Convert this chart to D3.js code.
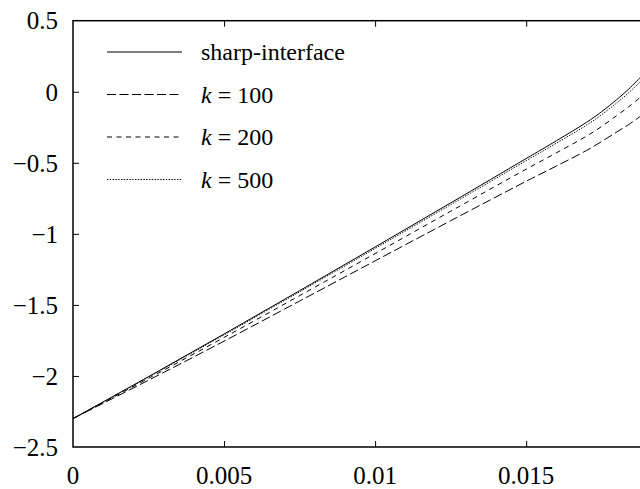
<!DOCTYPE html>
<html>
<head>
<meta charset="utf-8">
<script src="https://cdn.jsdelivr.net/npm/d3@7"></script>
<style>
  body { margin: 0; background: #fff; }
  text { font-family: "Liberation Serif", "DejaVu Serif", serif; }
</style>
</head>
<body>
<div id="my_dataviz"></div>
<script>
// Dane
var xs = [0, 0.0025, 0.005, 0.0075, 0.01, 0.0125, 0.015, 0.016, 0.017, 0.0175, 0.018, 0.0184, 0.0188]
var sharp = [-2.30, -2.005, -1.705, -1.40, -1.0925, -0.7825, -0.47, -0.345, -0.215, -0.14, -0.055, 0.02, 0.105]
var k100 = [-2.30, -2.03, -1.755, -1.473, -1.19, -0.908, -0.63, -0.523, -0.413, -0.35, -0.283, -0.23, -0.17]
var k200 = [-2.30, -2.017, -1.729, -1.435, -1.139, -0.841, -0.545, -0.43, -0.312, -0.244, -0.167, -0.105, -0.035]
var k500 = [-2.30, -2.008, -1.711, -1.408, -1.103, -0.795, -0.485, -0.362, -0.235, -0.161, -0.078, -0.006, 0.075]

var xTicks = [0, 0.005, 0.01, 0.015]
var xTickLabels = ["0", "0.005", "0.01", "0.015"]
var yTicks = [-2.5, -2, -1.5, -1, -0.5, 0, 0.5]
var yTickLabels = ["\u22122.5", "\u22122", "\u22121.5", "\u22121", "\u22120.5", "0", "0.5"]

var seriesNames = ["sharp-interface", "100", "200", "500"]
var seriesValues = [sharp, k100, k200, k500]

// Wymiary i granice obszaru wykresu
var width = 640
var height = 489
var pLeft = 73, pRight = 647, pTop = 20.7, pBottom = 447

var svg = d3.select("#my_dataviz")
  .append("svg")
    .attr("width", width)
    .attr("height", height)

var x = d3.scaleLinear().domain([0, 0.019]).range([pLeft, pRight])
var y = d3.scaleLinear().domain([-2.5, 0.5]).range([pBottom, pTop])

// Style linii dla kolejnych serii
var dashes = [null, "9,3.5", "5,4.5", "1.4,1.4"]

// Krzywe
var line = d3.line()
  .x(function(d) { return x(d[0]) })
  .y(function(d) { return y(d[1]) })
  .curve(d3.curveCatmullRom.alpha(0.5))

svg.append("defs").append("clipPath").attr("id", "clip")
  .append("rect").attr("x", pLeft).attr("y", pTop).attr("width", pRight - pLeft).attr("height", pBottom - pTop)

seriesValues.forEach(function(vals, i) {
  svg.append("path")
    .datum(xs.map(function(v, j) { return [v, vals[j]] }))
    .attr("d", line)
    .attr("clip-path", "url(#clip)")
    .attr("fill", "none")
    .attr("stroke", "black")
    .attr("stroke-width", 1)
    .attr("stroke-dasharray", dashes[i])
})

// Ramka
svg.append("rect")
  .attr("x", pLeft).attr("y", pTop)
  .attr("width", pRight - pLeft).attr("height", pBottom - pTop)
  .attr("fill", "none").attr("stroke", "black").attr("stroke-width", 1.5)

// Osie z kreskami do środka
var xAxisB = d3.axisBottom(x).tickValues(xTicks.slice(1)).tickSize(-6).tickFormat("")
var xAxisT = d3.axisTop(x).tickValues(xTicks.slice(1)).tickSize(-6).tickFormat("")
var yAxisL = d3.axisLeft(y).tickValues(yTicks.slice(1, -1)).tickSize(-6).tickFormat("")

svg.append("g").attr("transform", "translate(0," + pBottom + ")").call(xAxisB)
svg.append("g").attr("transform", "translate(0," + pTop + ")").call(xAxisT)
svg.append("g").attr("transform", "translate(" + pLeft + ",0)").call(yAxisL)
svg.selectAll(".domain").remove()
svg.selectAll(".tick line").attr("stroke", "black").attr("stroke-width", 1)

// Etykiety osi X
svg.selectAll(".xlab")
  .data(xTicks)
  .enter()
  .append("text")
    .attr("x", function(d) { return x(d) })
    .attr("y", 484)
    .attr("text-anchor", "middle")
    .style("font-size", "25px")
    .text(function(d, i) { return xTickLabels[i] })

// Etykiety osi Y
svg.selectAll(".ylab")
  .data(yTicks)
  .enter()
  .append("text")
    .attr("x", 58)
    .attr("y", function(d) { return y(d) })
    .attr("dy", "0.35em")
    .attr("text-anchor", "end")
    .style("font-size", "25px")
    .text(function(d, i) { return yTickLabels[i] })

// Legenda
var legend = svg.selectAll(".legend")
  .data(seriesNames)
  .enter()
  .append("g")
    .attr("class", "legend")
    .attr("transform", function(d, i) { return "translate(107," + (52 + i * 42.5) + ")" })

legend.append("line")
  .attr("x1", 0).attr("x2", 75)
  .attr("stroke", "black").attr("stroke-width", 1)
  .attr("stroke-dasharray", function(d, i) { return dashes[i] })

var lt = legend.append("text")
  .attr("x", 94)
  .attr("dy", "0.35em")
  .style("font-size", "24px")

lt.filter(function(d, i) { return i == 0 }).text(function(d) { return d })
lt.filter(function(d, i) { return i > 0 }).each(function(d) {
  var t = d3.select(this)
  t.append("tspan").style("font-style", "italic").text("k")
  t.append("tspan").text(" = " + d)
})
</script>
</body>
</html>
